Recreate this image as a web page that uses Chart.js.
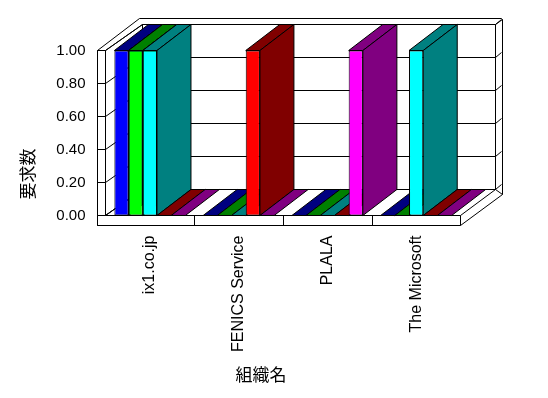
<!DOCTYPE html>
<html>
<head>
<meta charset="utf-8">
<script src="https://cdn.jsdelivr.net/npm/chart.js@4.4.0/dist/chart.umd.min.js"></script>
<style>
  html, body { margin: 0; padding: 0; background: #ffffff; }
  #wrap { width: 548px; height: 398px; position: relative; }
</style>
</head>
<body>
<div id="wrap"><canvas id="c" width="548" height="398"></canvas></div>
<script>
// ---- data ----
const categories = ['ix1.co.jp', 'FENICS Service', 'PLALA', 'The Microsoft'];
const series1 = [1, 0, 0, 0];
const series2 = [1, 0, 0, 0];
const series3 = [1, 0, 0, 1];
const series4 = [0, 1, 0, 0];
const series5 = [0, 0, 1, 0];
const yTickValues = [0, 0.2, 0.4, 0.6, 0.8, 1.0];
const yTitle = '要求数';
const xTitle = '組織名';

// ---- styles ----
const fronts = ['#0000FF', '#00FF00', '#00FFFF', '#FF0000', '#FF00FF'];
const darks  = ['#000080', '#008000', '#008080', '#800000', '#800080'];
const BDX = 34, BDY = -26;      // bar depth offset
const tickFont = 'Liberation Sans';
const cjkFont = 'Noto Sans CJK JP';

function poly(ctx, pts, fill) {
  ctx.beginPath();
  ctx.moveTo(pts[0][0], pts[0][1]);
  for (let i = 1; i < pts.length; i++) ctx.lineTo(pts[i][0], pts[i][1]);
  ctx.closePath();
  if (fill) { ctx.fillStyle = fill; ctx.fill(); }
  ctx.stroke();
}
function line(ctx, pts) {
  ctx.beginPath();
  ctx.moveTo(pts[0][0], pts[0][1]);
  for (let i = 1; i < pts.length; i++) ctx.lineTo(pts[i][0], pts[i][1]);
  ctx.stroke();
}

const threeD = {
  id: 'threeD',
  beforeDatasetsDraw(chart) {
    const ctx = chart.ctx;
    const a = chart.chartArea;
    const ys = chart.scales.y;
    const xs = chart.scales.x;
    const L = a.left, R = a.right, T = a.top, B = a.bottom;
    const WL = L - 8;          // left wall outer face
    const SB = B + 10;         // slab bottom
    const BWL = L + 37, BWR = R + 35, BWT = T - 26, BWB = B - 26;
    const OUTR = BWR + 7, OUTT = BWT - 6;
    ctx.save();
    ctx.lineWidth = 1;
    ctx.strokeStyle = '#000';
    // outer shell of walls
    poly(ctx, [[WL, T], [BWL - 3, OUTT], [OUTR - 1, OUTT], [OUTR, OUTT + 1], [OUTR, SB - 31], [R, SB], [WL, SB]], '#fff');
    // back wall inner face
    poly(ctx, [[BWL, BWT], [BWR, BWT], [BWR, BWB], [BWL, BWB]], '#fff');
    // left wall inner face
    poly(ctx, [[L, T], [BWL, BWT], [BWL, BWB], [L, B]], '#fff');
    // floor top
    poly(ctx, [[L, B], [R, B], [BWR, BWB], [BWL, BWB]], '#fff');
    // slab front
    poly(ctx, [[WL, B], [R, B], [R, SB], [WL, SB]], '#fff');
    // left wall front face
    poly(ctx, [[WL, T], [L, T], [L, B], [WL, B]], '#fff');
    line(ctx, [[WL, B], [WL, SB]]);
    // right side wall edges
    line(ctx, [[BWR, BWT], [OUTR, OUTT + 1]]);
    line(ctx, [[BWR, BWB], [OUTR, BWB + 5]]);
    // gridlines
    yTickValues.forEach(v => {
      const yf = ys.getPixelForValue(v);
      if (v > 0) line(ctx, [[WL, yf], [L, yf]]);
      line(ctx, [[L, yf], [BWL, yf - 26], [BWR, yf - 26], [OUTR - 1, yf - 31]]);
    });
    // category dividers on slab front
    for (let i = 1; i < categories.length; i++) {
      const xd = Math.round((xs.getPixelForValue(i - 1) + xs.getPixelForValue(i)) / 2) + 0.5;
      line(ctx, [[xd, B], [xd, SB]]);
    }
    // bar tops and sides, in left-to-right order
    const items = [];
    chart.data.datasets.forEach((ds, di) => {
      const meta = chart.getDatasetMeta(di);
      meta.data.forEach(el => {
        const p = el.getProps(['x', 'y', 'base', 'width'], true);
        items.push({ left: p.x - p.width / 2, right: p.x + p.width / 2, top: p.y, base: p.base, dark: darks[di] });
      });
    });
    items.sort((m, n) => m.left - n.left);
    items.forEach(it => {
      poly(ctx, [[it.left, it.top], [it.right, it.top], [it.right + BDX, it.top + BDY], [it.left + BDX, it.top + BDY]], it.dark);
      if (it.base - it.top > 0.5) {
        poly(ctx, [[it.right, it.top], [it.right + BDX, it.top + BDY], [it.right + BDX, it.base + BDY], [it.right, it.base]], it.dark);
      }
    });
    ctx.restore();
  },
  afterDraw(chart) {
    const ctx = chart.ctx;
    ctx.save();
    ctx.fillStyle = '#000';
    ctx.font = '17px "' + cjkFont + '"';
    ctx.textAlign = 'center';
    ctx.textBaseline = 'middle';
    ctx.translate(28, 174);
    ctx.rotate(-Math.PI / 2);
    ctx.fillText(yTitle, 0, 0);
    ctx.restore();
    ctx.save();
    ctx.fillStyle = '#000';
    ctx.font = '17px "' + cjkFont + '"';
    ctx.textAlign = 'center';
    ctx.textBaseline = 'middle';
    ctx.fillText(xTitle, 261, 375);
    ctx.restore();
  }
};

const seriesData = [series1, series2, series3, series4, series5];
new Chart(document.getElementById('c'), {
  type: 'bar',
  data: {
    labels: categories,
    datasets: seriesData.map((d, i) => ({
      label: '系列' + (i + 1),
      data: d,
      backgroundColor: fronts[i],
      borderColor: '#000',
      borderWidth: 1,
      borderSkipped: false,
      categoryPercentage: 0.8,
      barPercentage: 1.0
    }))
  },
  options: {
    responsive: false,
    animation: false,
    devicePixelRatio: 1,
    layout: { padding: { left: 0, top: 50.5, right: 87.5, bottom: 0 } },
    plugins: { legend: { display: false }, tooltip: { enabled: false }, title: { display: false } },
    scales: {
      x: {
        grid: { display: false, drawTicks: false },
        border: { display: false },
        ticks: {
          autoSkip: false, maxRotation: 90, minRotation: 90, padding: 20,
          color: '#000', font: { family: tickFont, size: 16 }
        },
        afterFit(s) { s.height = 182.5; }
      },
      y: {
        min: 0, max: 1,
        grid: { display: false, drawTicks: false },
        border: { display: false },
        afterBuildTicks(s) { s.ticks = yTickValues.map(v => ({ value: v })); },
        ticks: {
          padding: 20, color: '#000', font: { family: tickFont, size: 15 },
          callback: v => Number(v).toFixed(2)
        },
        afterFit(s) { s.width = 105.5; }
      }
    }
  },
  plugins: [threeD]
});
</script>
</body>
</html>
